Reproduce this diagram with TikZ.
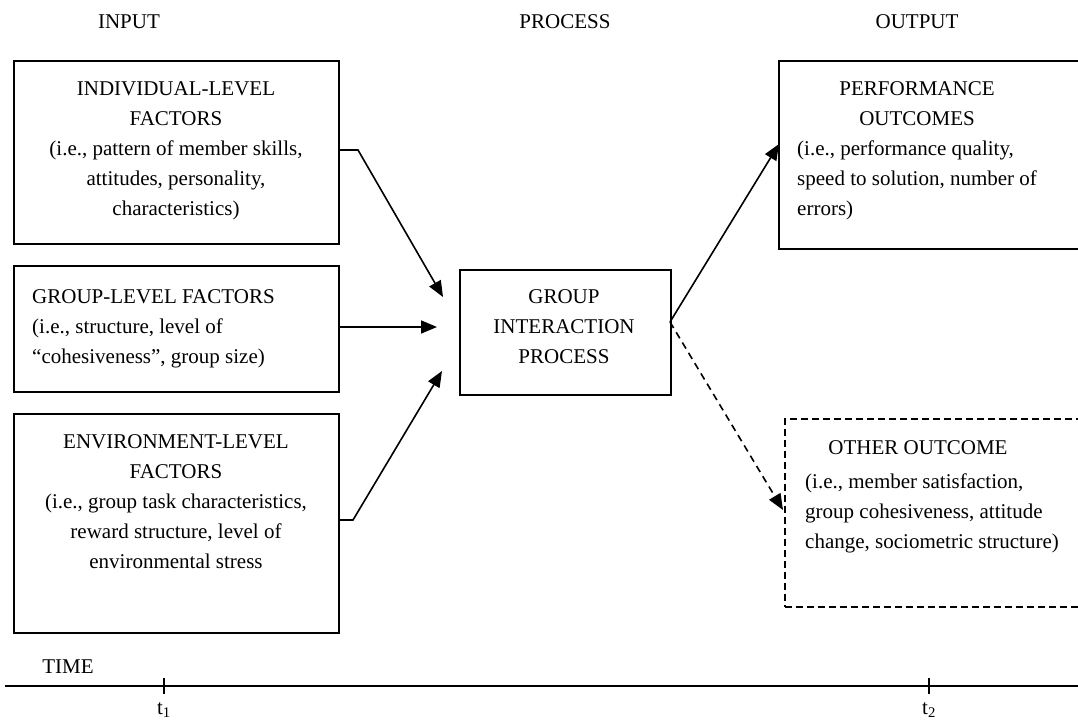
\documentclass[tikz,border=0pt]{standalone}
\usepackage{fontspec}
\setmainfont{Liberation Serif}
\usetikzlibrary{arrows.meta}
\begin{document}
\begin{tikzpicture}[x=1pt,y=-1pt,
  box/.style={draw,line width=1.7pt,inner sep=0pt,anchor=north west},
  dbox/.style={box,dash pattern=on 7pt off 4pt},
  txt/.style={inner sep=0pt,font=\fontsize{21}{30}\selectfont},
  arr/.style={line width=1.6pt,-{Triangle[length=16pt,width=13pt]}},
  darr/.style={arr,dash pattern=on 7pt off 5pt},
]
\clip (0,0) rectangle (1078,722);
% headers
\node[txt] (hin) at (129,22) {INPUT};
\node[txt] (hpr) at (565,22) {PROCESS};
\node[txt] (hout) at (917,22) {OUTPUT};
% input boxes
\node[box,minimum width=325pt,minimum height=183pt] (b1) at (13,60) {};
\node[txt,align=center,anchor=north] (b1t) at (176,81) {INDIVIDUAL-LEVEL\\FACTORS\\(i.e., pattern of member skills,\\attitudes, personality,\\characteristics)};
\node[box,minimum width=325pt,minimum height=126pt] (b2) at (13,265) {};
\node[txt,align=left,anchor=north west] (b2t) at (32,289) {GROUP-LEVEL FACTORS\\(i.e., structure, level of\\“cohesiveness”, group size)};
\node[box,minimum width=325pt,minimum height=219pt] (b3) at (13,413) {};
\node[txt,align=center,anchor=north] (b3t) at (176,434) {ENVIRONMENT-LEVEL\\FACTORS\\(i.e., group task characteristics,\\reward structure, level of\\environmental stress};
% process
\node[box,minimum width=211pt,minimum height=125pt] (gp) at (459,269) {};
\node[txt,align=center,anchor=north] (gpt) at (564,289) {GROUP\\INTERACTION\\PROCESS};
% outputs
\node[box,minimum width=330pt,minimum height=188pt] (po) at (778,60) {};
\node[txt,anchor=north] (poh) at (917,81) {PERFORMANCE};
\node[txt,anchor=north] (poh2) at (917,111) {OUTCOMES};
\node[txt,align=left,anchor=north west] (pot) at (797,141) {(i.e., performance quality,\\speed to solution, number of\\errors)};
\node[dbox,minimum width=330pt,minimum height=188pt] (oo) at (784,418) {};
\node[txt,anchor=north] (ooh) at (918,440) {OTHER OUTCOME};
\node[txt,align=left,anchor=north west] (oot) at (805,474) {(i.e., member satisfaction,\\group cohesiveness, attitude\\change, sociometric structure)};
% connector points
\coordinate (k1) at (358,150);
\coordinate (e1) at (443,297);
\coordinate (e2) at (437,327);
\coordinate (k3) at (353,520);
\coordinate (e3) at (442,371);
\coordinate (s4) at (670,322);
\coordinate (e4) at (779,144);
\coordinate (e5) at (783,510);
\draw[arr] (b1.east |- k1) -- (k1) -- (e1);
\draw[arr] (b2.east |- e2) -- (e2);
\draw[arr] (b3.east |- k3) -- (k3) -- (e3);
\draw[arr] (s4) -- (e4);
\draw[darr] (s4) -- (e5);
% time line
\node[txt] (time) at (68,667) {TIME};
\coordinate (tl0) at (5,686);
\coordinate (tl1) at (1078,686);
\draw[line width=2pt] (tl0) -- (tl1);
\coordinate (tk1) at (164,686);
\coordinate (tk2) at (929,686);
\draw[line width=1.5pt] ([yshift=-8pt]tk1) -- ([yshift=8pt]tk1);
\draw[line width=1.5pt] ([yshift=-8pt]tk2) -- ([yshift=8pt]tk2);
\node[txt] (t1) at (164,710) {t\textsubscript{1}};
\node[txt] (t2) at (929,710) {t\textsubscript{2}};
\end{tikzpicture}
\end{document}
